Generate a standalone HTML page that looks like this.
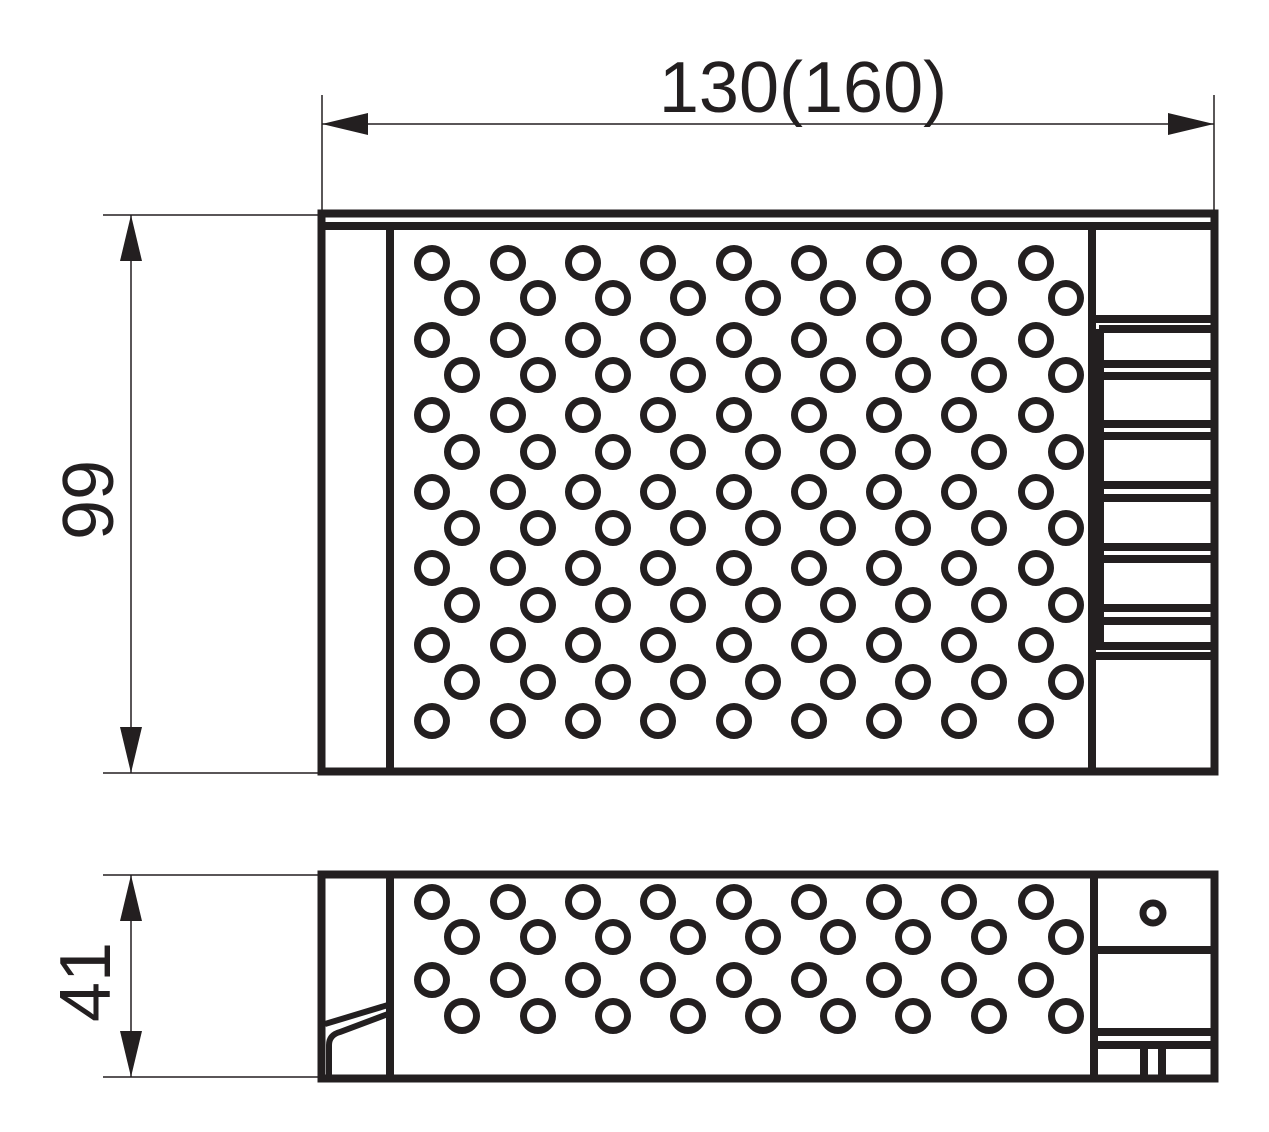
<!DOCTYPE html>
<html><head><style>body{margin:0;background:#fff}svg{display:block}</style></head><body>
<svg width="1269" height="1132" viewBox="0 0 1269 1132" xmlns="http://www.w3.org/2000/svg">
<g stroke="#231f20" fill="none">
<g stroke-width="1.5">
<line x1="322" y1="95" x2="322" y2="213"/><line x1="1214" y1="95" x2="1214" y2="213"/>
<line x1="322" y1="124" x2="1214" y2="124"/>
<line x1="103" y1="215" x2="318" y2="215"/><line x1="103" y1="773" x2="318" y2="773"/>
<line x1="131" y1="215" x2="131" y2="773"/>
<line x1="103" y1="875" x2="318" y2="875"/><line x1="103" y1="1077" x2="318" y2="1077"/>
<line x1="131" y1="875" x2="131" y2="1077"/>
</g>
<g fill="#231f20" stroke="none">
<polygon points="322,124 368,113 368,135"/><polygon points="1214,124 1168,113 1168,135"/>
<polygon points="131,215 120,261 142,261"/><polygon points="131,773 120,727 142,727"/>
<polygon points="131,875 120,921 142,921"/><polygon points="131,1077 120,1031 142,1031"/>
</g>
<g stroke-width="8">
<rect x="321.5" y="213.5" width="893" height="558"/>
<line x1="321" y1="226" x2="1214" y2="226"/>
<line x1="390" y1="226" x2="390" y2="772"/>
<line x1="1092" y1="226" x2="1092" y2="772"/>
<line x1="1092" y1="319" x2="1214" y2="319"/><line x1="1099" y1="329" x2="1214" y2="329"/>
<line x1="1100" y1="329" x2="1100" y2="646"/>
<line x1="1100" y1="364" x2="1214" y2="364"/><line x1="1100" y1="376" x2="1214" y2="376"/>
<line x1="1100" y1="424" x2="1214" y2="424"/><line x1="1100" y1="436" x2="1214" y2="436"/>
<line x1="1100" y1="485" x2="1214" y2="485"/><line x1="1100" y1="498" x2="1214" y2="498"/>
<line x1="1100" y1="547" x2="1214" y2="547"/><line x1="1100" y1="559" x2="1214" y2="559"/>
<line x1="1100" y1="608" x2="1214" y2="608"/><line x1="1100" y1="621" x2="1214" y2="621"/>
<line x1="1092" y1="646" x2="1214" y2="646"/><line x1="1092" y1="656" x2="1214" y2="656"/>
</g>
<g stroke-width="8">
<rect x="321.5" y="874.5" width="893" height="204"/>
<line x1="390" y1="875" x2="390" y2="1078"/>
<line x1="1094" y1="875" x2="1094" y2="1078"/>
<line x1="1094" y1="950" x2="1214" y2="950"/>
<line x1="1094" y1="1032" x2="1214" y2="1032"/><line x1="1094" y1="1045" x2="1214" y2="1045"/>
<line x1="1144" y1="1045" x2="1144" y2="1078"/><line x1="1162" y1="1045" x2="1162" y2="1078"/>
<circle cx="1153" cy="913" r="10" stroke-width="7"/>
<path d="M325,1024 L388,1005" stroke-width="6"/>
<path d="M329,1078 L329,1045 Q329,1035 340,1032 L388,1014" stroke-width="6"/>
</g>
<g stroke-width="7" id="c"></g>
</g>
<g font-family="Liberation Sans, sans-serif" font-size="72" fill="#231f20">
<text x="803" y="112" text-anchor="middle">130(160)</text>
<text transform="translate(113,500) rotate(-90)" text-anchor="middle">99</text>
<text transform="translate(110,982) rotate(-90)" text-anchor="middle">41</text>
</g>
<script>
var g=document.getElementById('c'),ns='http://www.w3.org/2000/svg';
function c(x,y){var e=document.createElementNS(ns,'circle');e.setAttribute('cx',x);e.setAttribute('cy',y);e.setAttribute('r',14.5);g.appendChild(e);}
var ax=[432,508,583,658,734,809,884,959,1036],bx=[462,538,613,688,763,838,913,989,1066];
[263,340,415,492,568,645,721].forEach(function(y){ax.forEach(function(x){c(x,y)})});
[298,375,452,528,605,682].forEach(function(y){bx.forEach(function(x){c(x,y)})});
[902,980].forEach(function(y){ax.forEach(function(x){c(x,y)})});
[937,1016].forEach(function(y){bx.forEach(function(x){c(x,y)})});
</script>
</svg>
</body></html>
